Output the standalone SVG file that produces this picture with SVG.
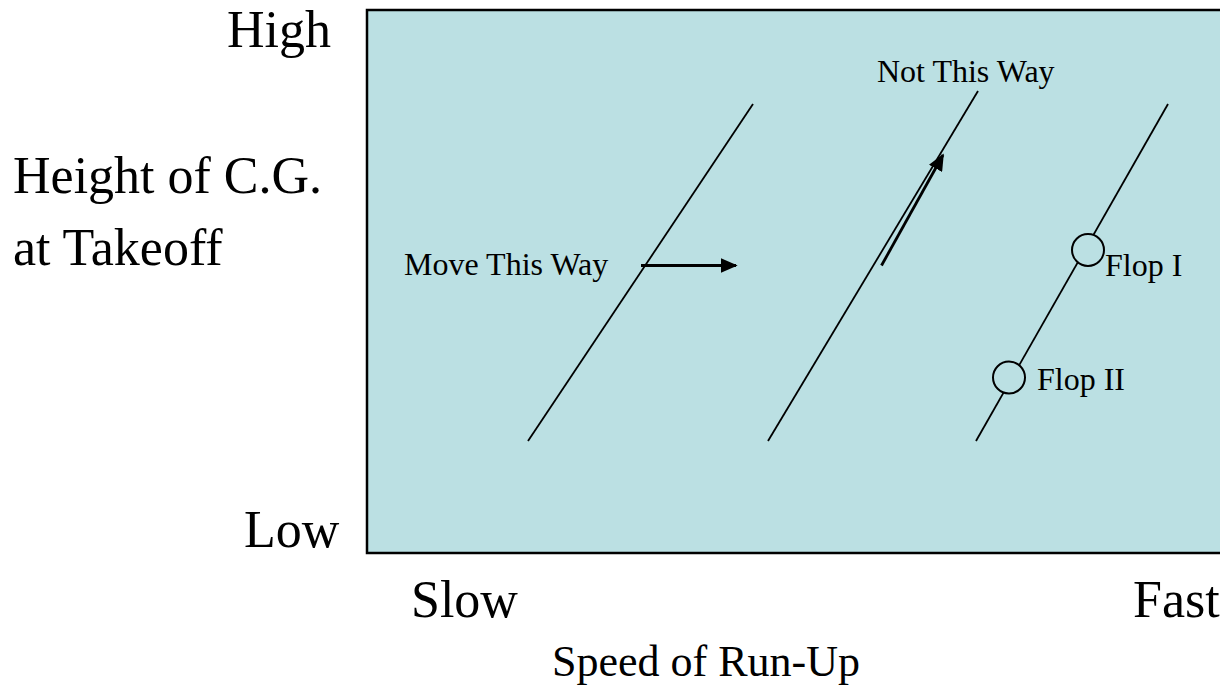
<svg xmlns="http://www.w3.org/2000/svg" width="1220" height="698" viewBox="0 0 1220 698">
<style>
text{font-family:"Liberation Serif","Times New Roman",serif;fill:#000}
.big{font-size:52px}
.axis{font-size:44px}
.small{font-size:32px}
.ln{stroke:#000;stroke-width:1.8;fill:none}
.arr{stroke:#000;stroke-width:2.8;fill:none}
.flop{fill:#BBE0E3;stroke:#000;stroke-width:2}
</style>
<defs>
<marker id="ah" viewBox="0 0 10 10" refX="9" refY="5" markerUnits="userSpaceOnUse" markerWidth="17" markerHeight="15" preserveAspectRatio="none" orient="auto">
<path d="M0,0 L10,5 L0,10 Z" fill="#000"/>
</marker>
</defs>
<g id="labels">
<text class="big" x="227" y="47">High</text>
<text class="big" x="13" y="193">Height of C.G.</text>
<text class="big" x="13" y="265">at Takeoff</text>
<text class="big" x="244" y="547">Low</text>
<text class="big" x="411" y="617">Slow</text>
<text class="big" x="1133" y="617">Fast</text>
<text class="axis" x="552" y="676">Speed of Run-Up</text>
</g>
<g id="plot">
<rect x="367" y="10" width="900" height="543" fill="#BBE0E3" stroke="#000" stroke-width="2.5"/>
</g>
<g id="connectors">
<line class="ln" x1="528" y1="441" x2="753" y2="104"/>
<line class="ln" x1="768" y1="441" x2="978" y2="91"/>
<line class="ln" x1="976" y1="441" x2="1168" y2="104"/>
<line class="arr" x1="641" y1="265.5" x2="736" y2="265.5" marker-end="url(#ah)"/>
<line class="arr" x1="881.5" y1="265.5" x2="943" y2="155" marker-end="url(#ah)"/>
</g>
<g id="move-label"><text class="small" x="404" y="275">Move This Way</text></g>
<g id="not-label"><text class="small" x="877" y="82">Not This Way</text></g>
<g id="flop1">
<circle class="flop" cx="1088" cy="250" r="16"/>
<text class="small" x="1105" y="276">Flop I</text>
</g>
<g id="flop2">
<circle class="flop" cx="1009" cy="377.5" r="16"/>
<text class="small" x="1037" y="390">Flop II</text>
</g>
</svg>
